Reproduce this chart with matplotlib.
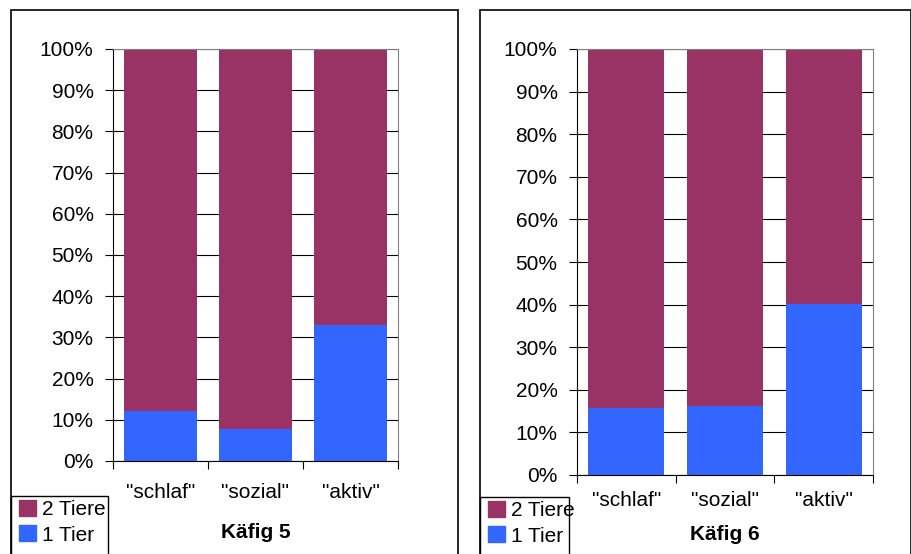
import matplotlib.pyplot as plt
from matplotlib.patches import Rectangle, Patch

plt.rcParams['font.family'] = ['Liberation Sans', 'DejaVu Sans']

categories = ['"schlaf"', '"sozial"', '"aktiv"']
tier1_k5 = [12.1, 7.8, 33.0]
tier1_k6 = [15.7, 16.2, 40.1]
tier2_k5 = [100 - v for v in tier1_k5]
tier2_k6 = [100 - v for v in tier1_k6]
titles = ['Käfig 5', 'Käfig 6']
yticks = list(range(0, 101, 10))

c2 = '#993366'
c1 = '#3366FF'
fs = 15

W, H = 912, 554
fig = plt.figure(figsize=(W / 100, H / 100), dpi=100)


def box(x0, y0, x1, y1):
    # pixel box (top-left origin) -> figure coords
    return [x0 / W, (H - y1) / H, (x1 - x0) / W, (y1 - y0) / H]


panels = [
    dict(frame=(11, 10, 458, 560), ax=(113, 49, 398, 461), leg=(11, 496, 108, 560),
         lab_y=492, title_y=533, t1=tier1_k5, t2=tier2_k5),
    dict(frame=(480, 10, 911, 560), ax=(577, 49, 873, 475), leg=(480, 497, 569, 560),
         lab_y=500, title_y=535, t1=tier1_k6, t2=tier2_k6),
]

for p, title in zip(panels, titles):
    fx0, fy0, fx1, fy1 = p['frame']
    fig.patches.append(Rectangle((fx0 / W, (H - fy1) / H), (fx1 - fx0) / W, (fy1 - fy0) / H,
                                 transform=fig.transFigure, fill=False, edgecolor='black', lw=1.2))
    ax = fig.add_axes(box(*p['ax']))
    x = range(len(categories))
    ax.bar(x, p['t1'], width=0.77, color=c1, zorder=2)
    ax.bar(x, p['t2'], width=0.77, bottom=p['t1'], color=c2, zorder=2)
    ax.set_xlim(-0.5, 2.5)
    ax.set_ylim(0, 100)
    ax.set_yticks(yticks)
    ax.set_yticklabels([f'{v}%' for v in yticks], fontsize=fs)
    ax.yaxis.grid(True, color='black', lw=0.8, zorder=0)
    ax.set_xticks([-0.5, 0.5, 1.5, 2.5])
    ax.set_xticklabels([])
    ax.tick_params(axis='both', direction='out', length=6, color='black')
    ax.tick_params(axis='y', pad=8)
    for s in ['top', 'right']:
        ax.spines[s].set_color('#808080')
    for s in ['left', 'bottom']:
        ax.spines[s].set_color('black')
    ax0, ay0, ax1, ay1 = p['ax']
    step = (ax1 - ax0) / 3
    for i, c in enumerate(categories):
        fig.text((ax0 + step * (i + 0.5)) / W, (H - p['lab_y']) / H, c,
                 ha='center', va='center', fontsize=fs)
    fig.text((ax0 + ax1) / 2 / W, (H - p['title_y']) / H, title,
             ha='center', va='center', fontsize=fs, fontweight='bold')
    lx0, ly0, lx1, ly1 = p['leg']
    fig.patches.append(Rectangle((lx0 / W, (H - ly1) / H), (lx1 - lx0) / W, (ly1 - ly0) / H,
                                 transform=fig.transFigure, fill=False, edgecolor='black', lw=1))
    fig.legend(handles=[Patch(color=c2, label='2 Tiere'), Patch(color=c1, label='1 Tier')],
               loc='upper left', bbox_to_anchor=((lx0 + 8) / W, (H - ly0 - 4) / H),
               frameon=False, fontsize=fs, handlelength=0.8, handleheight=0.8,
               handletextpad=0.3, labelspacing=0.3, borderaxespad=0, borderpad=0)

fig.savefig('out.png', dpi=100)
